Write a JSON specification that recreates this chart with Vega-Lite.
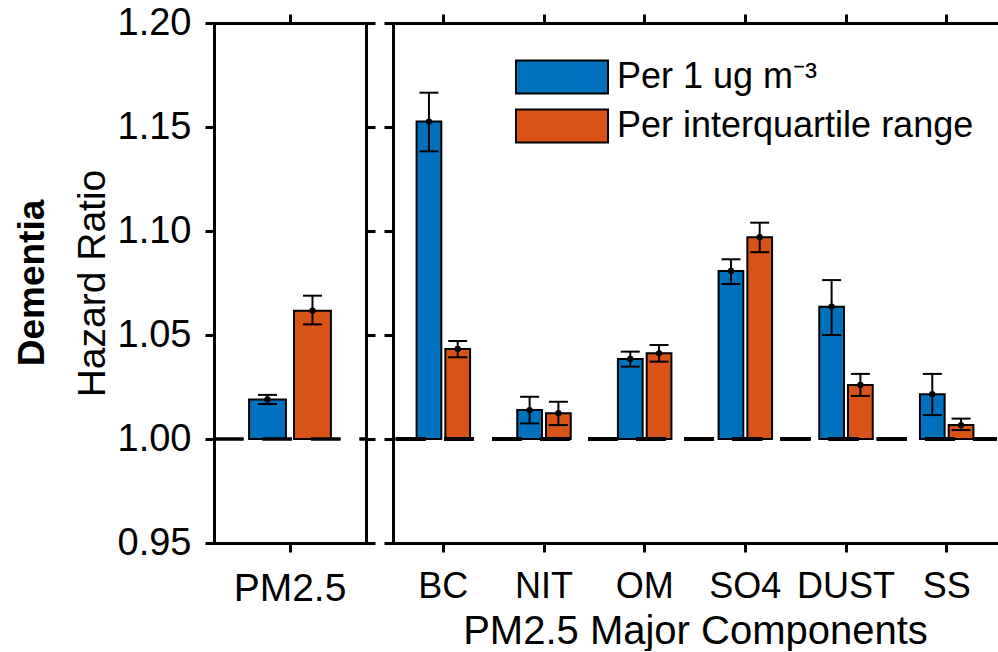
{
  "$schema": "https://vega.github.io/schema/vega-lite/v6.json",
  "background": "white",
  "padding": {"left": 14, "top": 4, "right": 0, "bottom": 0},
  "datasets": {
    "hr": [
      {"panel": "total", "cat": "PM2.5", "series": "Per 1 ug m⁻³", "hr": 1.0190, "lo": 1.0168, "hi": 1.0212},
      {"panel": "total", "cat": "PM2.5", "series": "Per interquartile range", "hr": 1.0617, "lo": 1.0551, "hi": 1.0689},
      {"panel": "comp", "cat": "BC", "series": "Per 1 ug m⁻³", "hr": 1.1526, "lo": 1.1383, "hi": 1.1665},
      {"panel": "comp", "cat": "BC", "series": "Per interquartile range", "hr": 1.0433, "lo": 1.0393, "hi": 1.0471},
      {"panel": "comp", "cat": "NIT", "series": "Per 1 ug m⁻³", "hr": 1.0139, "lo": 1.0075, "hi": 1.0203},
      {"panel": "comp", "cat": "NIT", "series": "Per interquartile range", "hr": 1.0124, "lo": 1.0067, "hi": 1.0179},
      {"panel": "comp", "cat": "OM", "series": "Per 1 ug m⁻³", "hr": 1.0385, "lo": 1.0348, "hi": 1.0420},
      {"panel": "comp", "cat": "OM", "series": "Per interquartile range", "hr": 1.0412, "lo": 1.0372, "hi": 1.0452},
      {"panel": "comp", "cat": "SO4", "series": "Per 1 ug m⁻³", "hr": 1.0808, "lo": 1.0745, "hi": 1.0864},
      {"panel": "comp", "cat": "SO4", "series": "Per interquartile range", "hr": 1.0970, "lo": 1.0898, "hi": 1.1040},
      {"panel": "comp", "cat": "DUST", "series": "Per 1 ug m⁻³", "hr": 1.0636, "lo": 1.0500, "hi": 1.0764},
      {"panel": "comp", "cat": "DUST", "series": "Per interquartile range", "hr": 1.0260, "lo": 1.0207, "hi": 1.0313},
      {"panel": "comp", "cat": "SS", "series": "Per 1 ug m⁻³", "hr": 1.0215, "lo": 1.0115, "hi": 1.0313},
      {"panel": "comp", "cat": "SS", "series": "Per interquartile range", "hr": 1.0067, "lo": 1.0043, "hi": 1.0098}
    ]
  },
  "config": {
    "view": {"stroke": null},
    "font": "Liberation Sans",
    "axis": {
      "domainColor": "black", "domainWidth": 3, "domainCap": "square",
      "tickColor": "black", "tickWidth": 3, "tickSize": 9,
      "labelColor": "black", "labelFontSize": 38, "labelFont": "Liberation Sans",
      "titleColor": "black", "titleFontSize": 39, "titleFontWeight": "normal", "titleFont": "Liberation Sans",
      "grid": false
    },
    "legend": {
      "orient": "none", "legendX": 301, "legendY": 36, "title": null,
      "symbolType": "M-1,-0.36H1V0.36H-1Z", "symbolSize": 8464,
      "symbolStrokeColor": "black", "symbolStrokeWidth": 2, "symbolOpacity": 1,
      "labelFontSize": 36, "labelColor": "black", "labelFont": "Liberation Sans", "labelOffset": 8,
      "clipHeight": 36, "rowPadding": 13, "labelLimit": 500
    }
  },
  "spacing": 5,
  "resolve": {"scale": {"xOffset": "independent", "x": "independent", "color": "shared"}},
  "hconcat": [
    {
      "width": 152, "height": 520,
      "data": {"name": "hr"},
      "transform": [{"filter": "datum.panel === 'total'"}],
      "title": {"text": "Dementia", "orient": "left", "fontSize": 37, "fontWeight": "bold", "color": "black", "offset": 21, "anchor": "middle", "font": "Liberation Sans"},
      "layer": [
        {
          "mark": {"type": "bar", "stroke": "black", "strokeWidth": 2},
          "encoding": {
            "x": {"field": "cat", "type": "nominal", "sort": null, "scale": {"paddingInner": 0, "paddingOuter": 0}, "axis": {"orient": "bottom", "title": null, "labelAngle": 0, "labelPadding": 17, "labelFontSize": 39}},
            "xOffset": {"field": "series", "type": "nominal", "sort": null, "scale": {"paddingInner": 0.18, "paddingOuter": 0.78}},
            "y": {"field": "hr", "type": "quantitative", "scale": {"domain": [0.95, 1.2], "zero": false, "nice": false}, "axis": {"orient": "left", "values": [0.95, 1.0, 1.05, 1.1, 1.15, 1.2], "format": ".2f", "title": "Hazard Ratio", "labelPadding": 14, "titlePadding": 5}},
            "y2": {"datum": 1},
            "color": {"field": "series", "type": "nominal", "sort": null, "scale": {"domain": ["Per 1 ug m⁻³", "Per interquartile range"], "range": ["#0072BD", "#D95319"]}}
          }
        },
        {
          "mark": {"type": "rule", "color": "black", "strokeWidth": 2},
          "encoding": {
            "x": {"field": "cat", "type": "nominal", "sort": null, "axis": {"orient": "top", "labels": false, "title": null}},
            "xOffset": {"field": "series", "type": "nominal", "sort": null},
            "y": {"field": "lo", "type": "quantitative", "axis": {"orient": "right", "labels": false, "title": null, "values": [0.95, 1.0, 1.05, 1.1, 1.15, 1.2]}},
            "y2": {"field": "hi"}
          }
        },
        {
          "mark": {"type": "tick", "orient": "horizontal", "size": 19, "thickness": 2, "color": "black", "opacity": 1},
          "encoding": {
            "x": {"field": "cat", "type": "nominal", "sort": null, "axis": null},
            "xOffset": {"field": "series", "type": "nominal", "sort": null},
            "y": {"field": "hi", "type": "quantitative", "axis": null}
          }
        },
        {
          "mark": {"type": "tick", "orient": "horizontal", "size": 19, "thickness": 2, "color": "black", "opacity": 1},
          "encoding": {
            "x": {"field": "cat", "type": "nominal", "sort": null, "axis": null},
            "xOffset": {"field": "series", "type": "nominal", "sort": null},
            "y": {"field": "lo", "type": "quantitative", "axis": null}
          }
        },
        {
          "mark": {"type": "point", "filled": true, "color": "black", "size": 40, "opacity": 1},
          "encoding": {
            "x": {"field": "cat", "type": "nominal", "sort": null, "axis": null},
            "xOffset": {"field": "series", "type": "nominal", "sort": null},
            "y": {"field": "hr", "type": "quantitative", "axis": null}
          }
        },
        {
          "mark": {"type": "rule", "color": "black", "strokeWidth": 3, "strokeDash": [29.5, 19], "strokeDashOffset": 23},
          "encoding": {"y": {"datum": 1, "type": "quantitative", "axis": null}}
        }
      ],
      "resolve": {"axis": {"x": "independent", "y": "independent"}}
    },
    {
      "width": 604, "height": 520,
      "data": {"name": "hr"},
      "transform": [{"filter": "datum.panel === 'comp'"}],
      "layer": [
        {
          "mark": {"type": "bar", "stroke": "black", "strokeWidth": 2},
          "encoding": {
            "x": {"field": "cat", "type": "nominal", "sort": null, "scale": {"domain": ["BC", "NIT", "OM", "SO4", "DUST", "SS"], "paddingInner": 0, "paddingOuter": 0}, "axis": {"orient": "bottom", "title": "PM2.5 Major Components", "labelAngle": 0, "labelPadding": 17, "labelFontSize": 36, "titlePadding": 7, "titleFontSize": 40}},
            "xOffset": {"field": "series", "type": "nominal", "sort": null, "scale": {"paddingInner": 0.14, "paddingOuter": 0.82}},
            "y": {"field": "hr", "type": "quantitative", "scale": {"domain": [0.95, 1.2], "zero": false, "nice": false}, "axis": {"orient": "left", "values": [0.95, 1.0, 1.05, 1.1, 1.15, 1.2], "labels": false, "title": null}},
            "y2": {"datum": 1},
            "color": {"field": "series", "type": "nominal", "sort": null, "scale": {"domain": ["Per 1 ug m⁻³", "Per interquartile range"], "range": ["#0072BD", "#D95319"]}}
          }
        },
        {
          "mark": {"type": "rule", "color": "black", "strokeWidth": 2},
          "encoding": {
            "x": {"field": "cat", "type": "nominal", "sort": null, "axis": {"orient": "top", "labels": false, "title": null}},
            "xOffset": {"field": "series", "type": "nominal", "sort": null},
            "y": {"field": "lo", "type": "quantitative", "axis": null},
            "y2": {"field": "hi"}
          }
        },
        {
          "mark": {"type": "tick", "orient": "horizontal", "size": 19, "thickness": 2, "color": "black", "opacity": 1},
          "encoding": {
            "x": {"field": "cat", "type": "nominal", "sort": null, "axis": null},
            "xOffset": {"field": "series", "type": "nominal", "sort": null},
            "y": {"field": "hi", "type": "quantitative", "axis": null}
          }
        },
        {
          "mark": {"type": "tick", "orient": "horizontal", "size": 19, "thickness": 2, "color": "black", "opacity": 1},
          "encoding": {
            "x": {"field": "cat", "type": "nominal", "sort": null, "axis": null},
            "xOffset": {"field": "series", "type": "nominal", "sort": null},
            "y": {"field": "lo", "type": "quantitative", "axis": null}
          }
        },
        {
          "mark": {"type": "point", "filled": true, "color": "black", "size": 40, "opacity": 1},
          "encoding": {
            "x": {"field": "cat", "type": "nominal", "sort": null, "axis": null},
            "xOffset": {"field": "series", "type": "nominal", "sort": null},
            "y": {"field": "hr", "type": "quantitative", "axis": null}
          }
        },
        {
          "mark": {"type": "rule", "color": "black", "strokeWidth": 3, "strokeDash": [29.5, 18.6], "strokeDashOffset": 5.6},
          "encoding": {"y": {"datum": 1, "type": "quantitative", "axis": null}}
        }
      ],
      "resolve": {"axis": {"x": "independent", "y": "independent"}}
    }
  ]
}
